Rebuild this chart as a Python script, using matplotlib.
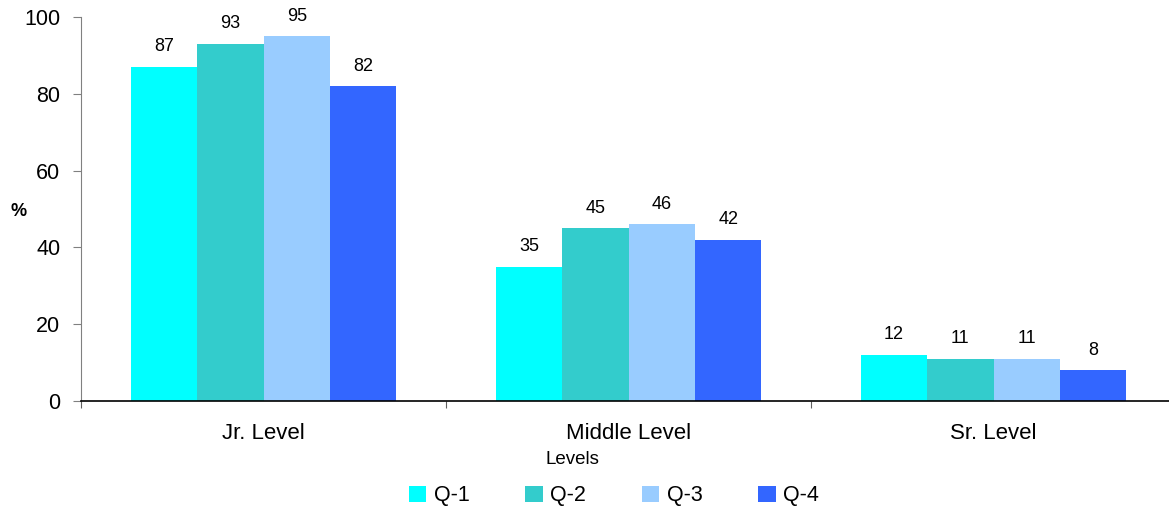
import matplotlib
matplotlib.use("Agg")
import matplotlib.pyplot as plt
import numpy as np
from matplotlib.patches import Patch

categories = ["Jr. Level", "Middle Level", "Sr. Level"]
series_names = ["Q-1", "Q-2", "Q-3", "Q-4"]
q1 = [87, 35, 12]
q2 = [93, 45, 11]
q3 = [95, 46, 11]
q4 = [82, 42, 8]
colors = ["#00FFFF", "#33CCCC", "#99CCFF", "#3366FF"]
yticks = [0, 20, 40, 60, 80, 100]

plt.rcParams['font.family'] = ['Liberation Sans', 'DejaVu Sans']

fig = plt.figure(figsize=(11.69, 5.09), dpi=100)
ax = fig.add_axes([81/1169, 1-401/509, 1095/1169, 384/509])

x = np.arange(len(categories))
bw = 0.182
series = [q1, q2, q3, q4]
for i, (vals, c) in enumerate(zip(series, colors)):
    pos = x + (i - 1.5) * bw
    bars = ax.bar(pos, vals, width=bw, color=c, linewidth=0, zorder=2)
    for b, v in zip(bars, vals):
        ax.text(b.get_x() + b.get_width()/2, v + 3.0, f"{v}", ha="center", va="bottom", fontsize=13)

ax.set_xlim(-0.5, 2.5)
ax.set_ylim(0, 100)
ax.set_yticks(yticks)
ax.set_yticklabels([str(t) for t in yticks], fontsize=15.5)
ax.tick_params(axis='y', length=6, color='#808080', pad=9)

ax.set_xticks([-0.5, 0.5, 1.5])
ax.set_xticklabels([])
ax.set_xticks(x, minor=True)
ax.set_xticklabels(categories, minor=True, fontsize=16)
ax.tick_params(axis='x', which='major', length=5, color='#606060')
ax.tick_params(axis='x', which='minor', length=0, pad=16)

for s in ['top', 'right']:
    ax.spines[s].set_visible(False)
ax.spines['left'].set_color('#808080')
ax.spines['bottom'].set_color('black')
ax.spines['bottom'].set_linewidth(1.2)

fig.text(19/1169, 1-211/509, "%", fontsize=13, fontweight='bold', ha='center', va='center')
fig.text(572/1169, 1-460/509, "Levels", fontsize=13.5, ha='center', va='center')

handles = [Patch(facecolor=c, edgecolor='none') for c in colors]
fig.legend(handles, series_names, loc='center', bbox_to_anchor=(614/1169, 1-496/509), ncol=4,
           frameon=False, fontsize=15.5, handlelength=0.8, handleheight=0.8,
           handletextpad=0.35, columnspacing=2.6)

fig.savefig("out.png", dpi=100)
